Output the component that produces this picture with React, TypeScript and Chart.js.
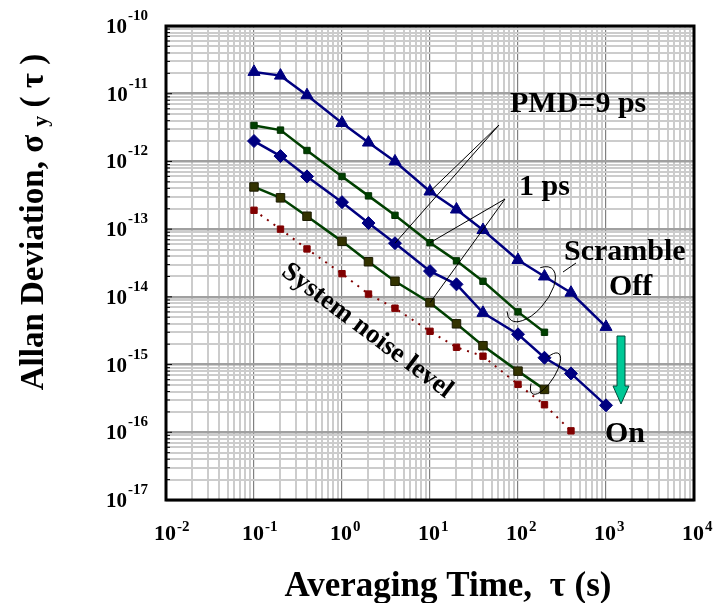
import React, { useEffect, useRef } from "react";
import { Chart, registerables } from "chart.js";

Chart.register(...registerables);

// ---- data ----
const tauOffPMD9 = [0.1, 0.2, 0.4, 1, 2, 4, 10, 20, 40, 100, 200, 400, 1000];
const offPMD9 = [2.1e-11, 1.85e-11, 9.5e-12, 3.7e-12, 1.9e-12, 1.0e-12, 3.6e-13, 1.95e-13, 9.7e-14, 3.5e-14, 2.0e-14, 1.15e-14, 3.6e-15];

const tauOffPMD1 = [0.1, 0.2, 0.4, 1, 2, 4, 10, 20, 40, 100, 200];
const offPMD1 = [3.4e-12, 2.9e-12, 1.45e-12, 6.0e-13, 3.1e-13, 1.6e-13, 6.3e-14, 3.4e-14, 1.7e-14, 6.0e-15, 3.0e-15];

const tauOnPMD9 = [0.1, 0.2, 0.4, 1, 2, 4, 10, 20, 40, 100, 200, 400, 1000];
const onPMD9 = [2.0e-12, 1.2e-12, 6.0e-13, 2.5e-13, 1.23e-13, 6.2e-14, 2.4e-14, 1.53e-14, 5.8e-15, 2.8e-15, 1.26e-15, 7.4e-16, 2.5e-16];

const tauOnPMD1 = [0.1, 0.2, 0.4, 1, 2, 4, 10, 20, 40, 100, 200];
const onPMD1 = [4.2e-13, 2.9e-13, 1.55e-13, 6.6e-14, 3.3e-14, 1.7e-14, 8.2e-15, 4.0e-15, 1.9e-15, 8.0e-16, 4.3e-16];

const tauNoise = [0.1, 0.2, 0.4, 1, 2, 4, 10, 20, 40, 100, 200, 400];
const noise = [1.9e-13, 1.0e-13, 5.1e-14, 2.2e-14, 1.1e-14, 6.8e-15, 3.1e-15, 1.8e-15, 1.33e-15, 5.1e-16, 2.55e-16, 1.05e-16];

const xExponents = [-2, -1, 0, 1, 2, 3, 4];
const yExponents = [-17, -16, -15, -14, -13, -12, -11, -10];

const xTitle = "Averaging Time,  \u03c4 (s)";
const yTitleMain = "Allan Deviation, \u03c3";
const yTitleSub = "y";
const yTitleEnd = " ( \u03c4 )";

const FONT = '"Liberation Serif", "Times New Roman", Times, serif';

function logTicks(exps: number[]) {
  const t: { value: number; major: boolean }[] = [];
  for (let i = 0; i < exps.length - 1; i++) {
    for (let m = 1; m < 10; m++) t.push({ value: m * Math.pow(10, exps[i]), major: m === 1 });
  }
  t.push({ value: Math.pow(10, exps[exps.length - 1]), major: true });
  return t;
}
const xTickList = logTicks(xExponents);
const yTickList = logTicks(yExponents);

const pts = (xs: number[], ys: number[]) => xs.map((x, i) => ({ x, y: ys[i] }));

const drawPlugin = {
  id: "decor",
  afterDraw(chart: any) {
    const { ctx, chartArea: ca, scales } = chart;
    const xs = scales.x;
    const ys = scales.y;
    const P = (x: number, y: number) => [xs.getPixelForValue(x), ys.getPixelForValue(y)];
    ctx.save();

    // inner ticks on left axis
    ctx.strokeStyle = "#000";
    ctx.lineWidth = 1;
    for (const t of yTickList) {
      const y = ys.getPixelForValue(t.value);
      ctx.beginPath();
      ctx.moveTo(ca.left, y);
      ctx.lineTo(ca.left + (t.major ? 6 : 4), y);
      ctx.stroke();
    }
    // frame
    ctx.lineWidth = 3;
    ctx.strokeRect(ca.left, ca.top, ca.right - ca.left, ca.bottom - ca.top);

    // y tick labels
    ctx.fillStyle = "#000";
    ctx.textBaseline = "alphabetic";
    ctx.textAlign = "left";
    for (const e of yExponents) {
      const y = ys.getPixelForValue(Math.pow(10, e));
      const es = String(e);
      ctx.font = `bold 21px ${FONT}`;
      const w10 = ctx.measureText("10").width;
      ctx.font = `bold 15px ${FONT}`;
      const we = ctx.measureText(es).width;
      const right = ca.left - 18;
      ctx.font = `bold 21px ${FONT}`;
      ctx.fillText("10", right - we - w10 - 1, y + 7);
      ctx.font = `bold 15px ${FONT}`;
      ctx.fillText(es, right - we, y - 6);
    }
    // x tick labels
    for (const e of xExponents) {
      const x = xs.getPixelForValue(Math.pow(10, e));
      const es = String(e);
      ctx.font = `bold 22px ${FONT}`;
      const w10 = ctx.measureText("10").width;
      const y0 = ca.bottom + 40;
      ctx.fillText("10", x - 1 - w10 / 2, y0);
      ctx.font = `bold 15px ${FONT}`;
      ctx.fillText(es, x - 1 + w10 / 2 + 1, y0 - 9);
    }

    // x title
    ctx.font = `bold 35px ${FONT}`;
    ctx.textAlign = "center";
    ctx.fillText(xTitle, 448, ca.bottom + 96);

    // y title (rotated)
    ctx.save();
    ctx.translate(43, 222);
    ctx.rotate(-Math.PI / 2);
    ctx.textAlign = "left";
    ctx.font = `bold 33px ${FONT}`;
    const w1 = ctx.measureText(yTitleMain + " ").width;
    const w3 = ctx.measureText(yTitleEnd).width;
    ctx.font = `bold 22px ${FONT}`;
    const w2 = ctx.measureText(yTitleSub).width;
    const total = w1 + w2 + w3;
    let cx = -total / 2;
    ctx.font = `bold 33px ${FONT}`;
    ctx.fillText(yTitleMain + " ", cx, 0);
    cx += w1;
    ctx.font = `bold 22px ${FONT}`;
    ctx.fillText(yTitleSub, cx, 4);
    cx += w2;
    ctx.font = `bold 33px ${FONT}`;
    ctx.fillText(yTitleEnd, cx, 0);
    ctx.restore();

    // leader lines
    ctx.strokeStyle = "#000";
    ctx.lineWidth = 1;
    const lead = (sx: number, sy: number, targets: number[][]) => {
      for (const t of targets) {
        ctx.beginPath();
        ctx.moveTo(sx, sy);
        ctx.lineTo(t[0], t[1]);
        ctx.stroke();
      }
    };
    lead(499, 125, [P(tauOffPMD9[6], offPMD9[6]), P(tauOnPMD9[5], onPMD9[5])]);
    lead(505, 199, [P(tauOffPMD1[6], offPMD1[6]), P(tauOnPMD1[6], onPMD1[6])]);

    // ellipses
    const a = P(tauOffPMD9[10], offPMD9[10]);
    const b = P(tauOffPMD1[9], offPMD1[9]);
    ctx.beginPath();
    ctx.ellipse((a[0] + b[0]) / 2, (a[1] + b[1]) / 2, 33, 16, (-51 * Math.PI) / 180, -0.65, 3.66);
    ctx.stroke();
    ctx.beginPath();
    ctx.moveTo(563, 272);
    ctx.lineTo(576, 263);
    ctx.stroke();

    const c = P(tauOnPMD9[10], onPMD9[10]);
    const d = P(tauOnPMD1[10], onPMD1[10]);
    ctx.beginPath();
    ctx.ellipse((c[0] + d[0]) / 2 + 1, (c[1] + d[1]) / 2, 24, 9, (-57 * Math.PI) / 180, -0.88, 3.97);
    ctx.stroke();

    // arrow
    ctx.beginPath();
    ctx.moveTo(617, 336);
    ctx.lineTo(625, 336);
    ctx.lineTo(625, 386);
    ctx.lineTo(629, 386);
    ctx.lineTo(621, 404);
    ctx.lineTo(613, 386);
    ctx.lineTo(617, 386);
    ctx.closePath();
    ctx.fillStyle = "#00c896";
    ctx.fill();
    ctx.strokeStyle = "#004a3a";
    ctx.lineWidth = 1;
    ctx.stroke();

    // annotation text
    ctx.fillStyle = "#000";
    ctx.textAlign = "left";
    ctx.font = `bold 30px ${FONT}`;
    ctx.fillText("PMD=9 ps", 510, 112);
    ctx.fillText("1 ps", 519, 195);
    ctx.fillText("Scramble", 564, 260);
    ctx.fillText("Off", 609, 295);
    ctx.fillText("On", 605, 442);

    ctx.save();
    ctx.translate(367, 331);
    ctx.rotate((37 * Math.PI) / 180);
    ctx.textAlign = "center";
    ctx.textBaseline = "middle";
    ctx.font = `bold 27px ${FONT}`;
    ctx.fillText("System noise level", 0, 0);
    ctx.restore();

    ctx.restore();
  },
};

export default function App() {
  const ref = useRef<HTMLCanvasElement | null>(null);
  useEffect(() => {
    if (!ref.current) return;
    const onStyles = onPMD9.map((_, i) => (i === 8 ? "triangle" : "rectRot"));
    const onRadii = onPMD9.map((_, i) => (i === 8 ? 7 : 6.5));
    const chart = new Chart(ref.current, {
      type: "line",
      data: {
        datasets: [
          {
            label: "Off PMD=9 ps",
            data: pts(tauOffPMD9, offPMD9),
            borderColor: "#000080",
            backgroundColor: "#000080",
            borderWidth: 2.5,
            pointStyle: "triangle",
            pointRadius: 7,
            pointBackgroundColor: "#000080",
            pointBorderColor: "#000080",
            pointBorderWidth: 1,
          },
          {
            label: "Off 1 ps",
            data: pts(tauOffPMD1, offPMD1),
            borderColor: "#004000",
            backgroundColor: "#004000",
            borderWidth: 2.5,
            pointStyle: "rect",
            pointRadius: 4.5,
            pointBackgroundColor: "#004000",
            pointBorderColor: "#003000",
            pointBorderWidth: 1,
          },
          {
            label: "On PMD=9 ps",
            data: pts(tauOnPMD9, onPMD9),
            borderColor: "#000080",
            backgroundColor: "#000080",
            borderWidth: 2.5,
            pointStyle: onStyles as any,
            pointRadius: onRadii,
            pointBackgroundColor: "#000080",
            pointBorderColor: "#000080",
            pointBorderWidth: 1,
          },
          {
            label: "On 1 ps",
            data: pts(tauOnPMD1, onPMD1),
            borderColor: "#004000",
            backgroundColor: "#333300",
            borderWidth: 2.5,
            pointStyle: "rect",
            pointRadius: 6,
            pointBackgroundColor: "#333300",
            pointBorderColor: "#1a1a00",
            pointBorderWidth: 1,
          },
          {
            label: "System noise",
            data: pts(tauNoise, noise),
            borderColor: "#800000",
            backgroundColor: "#800000",
            borderWidth: 2,
            borderDash: [2, 6],
            pointStyle: "rect",
            pointRadius: 4.5,
            pointBackgroundColor: "#800000",
            pointBorderColor: "#800000",
            pointBorderWidth: 1,
          },
        ],
      },
      options: {
        animation: false,
        responsive: true,
        maintainAspectRatio: false,
        layout: { padding: { left: 166, top: 26, right: 19, bottom: 103 } },
        plugins: { legend: { display: false }, tooltip: { enabled: false }, title: { display: false } },
        elements: { line: { tension: 0 } },
        scales: {
          x: {
            type: "logarithmic",
            min: 1e-2,
            max: 1e4,
            afterBuildTicks: (s: any) => {
              s.ticks = xTickList.map((t) => ({ ...t }));
            },
            ticks: { display: false },
            border: { display: false },
            grid: {
              drawTicks: false,
              color: (c: any) => (c.tick && c.tick.major ? "#808080" : "#cccccc"),
              lineWidth: (c: any) => (c.tick && c.tick.major ? 1.2 : 2),
            },
          },
          y: {
            type: "logarithmic",
            min: 1e-17,
            max: 1e-10,
            afterBuildTicks: (s: any) => {
              s.ticks = yTickList.map((t) => ({ ...t }));
            },
            ticks: { display: false },
            border: { display: false },
            grid: {
              drawTicks: false,
              color: (c: any) => (c.tick && c.tick.major ? "#a0a0a0" : "#cccccc"),
              lineWidth: (c: any) => (c.tick && c.tick.major ? 2.5 : 2),
            },
          },
        },
      },
      plugins: [drawPlugin],
    });
    return () => chart.destroy();
  }, []);
  return (
    <div style={{ position: "absolute", left: 0, top: 0, width: 713, height: 603, background: "#fff" }}>
      <canvas ref={ref} />
    </div>
  );
}
